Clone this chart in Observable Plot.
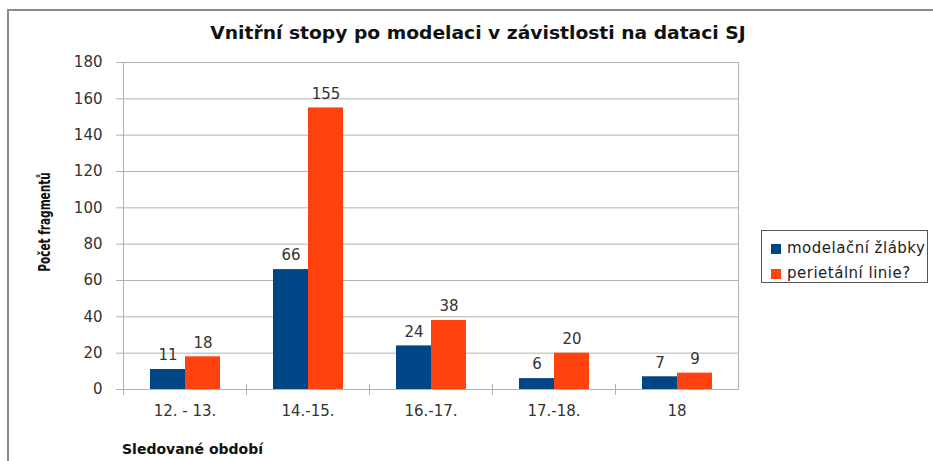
<!DOCTYPE html>
<html><head><meta charset="utf-8">
<script src="https://cdn.jsdelivr.net/npm/d3@7"></script>
<script src="https://cdn.jsdelivr.net/npm/@observablehq/plot@0.6"></script>
<style>
body{margin:0;background:#fff;}
#wrap{position:relative;width:933px;height:461px;overflow:hidden;background:#fff;}
#border{position:absolute;left:7px;top:9px;width:1000px;height:600px;border-left:2px solid #8a8a8a;border-top:2px solid #8a8a8a;}
#chart{position:absolute;left:0;top:0;}
#title{position:absolute;left:478px;top:33px;transform:translate(-50%,-50%) scaleX(1.1);font:bold 17px "DejaVu Sans",sans-serif;color:#111;line-height:1;white-space:nowrap;}
#ylabel{position:absolute;left:45px;top:222px;transform:translate(-50%,-50%) rotate(-90deg) scaleX(0.78);font:bold 15px "DejaVu Sans Condensed","DejaVu Sans",sans-serif;color:#111;white-space:nowrap;line-height:1;}
#xlabel{position:absolute;left:122px;top:442px;font:bold 14px "DejaVu Sans",sans-serif;color:#111;white-space:nowrap;line-height:1;}
#legend{position:absolute;left:761px;top:230px;width:167px;height:53px;border:1px solid #555;box-sizing:border-box;font:15px "DejaVu Sans",sans-serif;letter-spacing:0.5px;color:#222;}
.item{position:absolute;left:9px;display:flex;align-items:center;white-space:nowrap;line-height:1;}
.sw{width:10px;height:10px;margin-right:6px;display:inline-block;}
</style></head>
<body>
<div id="wrap">
  <div id="border"></div>
  <div id="chart"></div>
  <div id="title"></div>
  <div id="ylabel"></div>
  <div id="xlabel"></div>
  <div id="legend"></div>
</div>
<script>
const titleText = "Vnitřní stopy po modelaci v závistlosti na dataci SJ";
const yLabelText = "Počet fragmentů";
const xLabelText = "Sledované období";
const categories = ["12. - 13.", "14.-15.", "16.-17.", "17.-18.", "18"];
const seriesNames = ["modelační žlábky", "perietální linie?"];
const zlabky = [11, 66, 24, 6, 7];
const linie = [18, 155, 38, 20, 9];
const yTicks = [0, 20, 40, 60, 80, 100, 120, 140, 160, 180];
const colors = ["#004586", "#ff420e"];

const seriesValues = [zlabky, linie];
const data = categories.flatMap((c, i) => seriesNames.map((s, j) => ({cat: c, series: s, value: seriesValues[j][i]})));

document.getElementById("title").textContent = titleText;
document.getElementById("ylabel").textContent = yLabelText;
document.getElementById("xlabel").textContent = xLabelText;

const legend = document.getElementById("legend");
seriesNames.forEach((s, j) => {
  const it = document.createElement("div");
  it.className = "item";
  it.style.top = (j === 0 ? 10 : 35) + "px";
  const sw = document.createElement("span");
  sw.className = "sw";
  sw.style.background = colors[j];
  const t = document.createElement("span");
  t.textContent = s;
  it.appendChild(sw); it.appendChild(t);
  legend.appendChild(it);
});

const chart = Plot.plot({
  width: 933, height: 461,
  marginLeft: 121, marginRight: 193, marginTop: 62, marginBottom: 72,
  style: {fontFamily: "DejaVu Sans, sans-serif", fontSize: "15px", color: "#333", background: "transparent"},
  fx: {domain: categories, padding: 0, label: null},
  x: {domain: seriesNames, paddingInner: 0, paddingOuter: 0.72, axis: null},
  y: {domain: [0, 180], ticks: yTicks, label: null},
  color: {domain: seriesNames, range: colors},
  marks: [
    Plot.gridY(yTicks, {stroke: "#b3b3b3", strokeOpacity: 1}),
    Plot.frame({facet: "super", stroke: "#b3b3b3"}),
    Plot.frame({anchor: "left", stroke: "#b3b3b3", insetTop: 322, insetBottom: -5}),
    Plot.barY(data, {fx: "cat", x: "series", y: "value", fill: "series"}),
    Plot.text(data, {fx: "cat", x: "series", y: "value", text: "value", dy: -14, fontSize: 15, fill: "#333"}),
    Plot.axisY(yTicks, {tickSize: 7, tickPadding: 14, label: null, stroke: "#b3b3b3", fill: "#333", fontSize: 15}),
    Plot.axisFx({anchor: "bottom", tickSize: 0, tickPadding: 16, label: null, fontSize: 15, fill: "#333"})
  ]
});
document.getElementById("chart").appendChild(chart);
</script>
</body></html>
